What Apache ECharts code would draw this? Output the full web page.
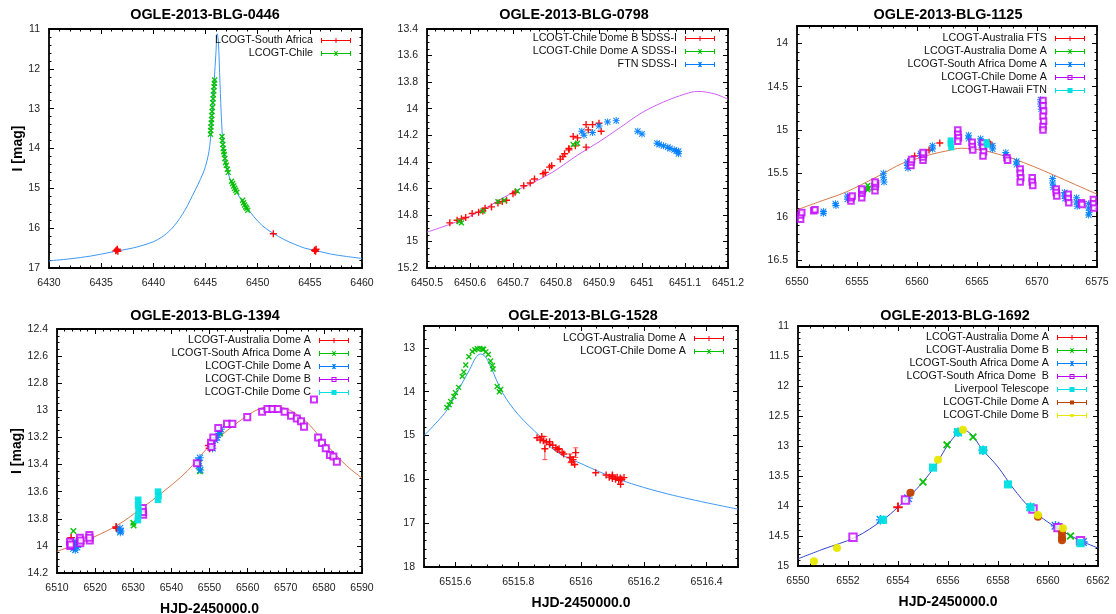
<!DOCTYPE html>
<html><head><meta charset="utf-8">
<script src="https://cdn.jsdelivr.net/npm/echarts@6/dist/echarts.min.js"></script>
<style>html,body{margin:0;padding:0;background:#fff}#c{width:1116px;height:614px}</style>
</head><body><div id="c"></div>
<script>
// ---------------- DATA ----------------
// Panel 1: OGLE-2013-BLG-0446
const p1Titles = 'OGLE-2013-BLG-0446';
const p1XTicks = [6430, 6435, 6440, 6445, 6450, 6455, 6460];
const p1YTicks = [11, 12, 13, 14, 15, 16, 17];
const p1Model = [[6430,16.82],[6432,16.77],[6434,16.7],[6436,16.6],[6438,16.5],[6439,16.43],[6440,16.34],[6441,16.19],[6442,15.94],[6443,15.56],[6444,15.05],[6444.5,14.78],[6445,14.45],[6445.4,13.95],[6445.62,13.2],[6445.84,12.28],[6446.0,11.6],[6446.12,11.12],[6446.23,11.3],[6446.39,12.36],[6446.55,13.37],[6446.72,14.0],[6447.0,14.45],[6447.4,14.8],[6447.85,15.02],[6448.4,15.28],[6448.9,15.45],[6449.6,15.7],[6450.5,15.95],[6451.5,16.13],[6452.5,16.28],[6453.5,16.4],[6454.5,16.5],[6455.7,16.57],[6457,16.65],[6458.5,16.71],[6460,16.76]];
const p1SouthAfrica = [[6436.4,16.57],[6436.5,16.55],[6436.6,16.58],[6436.55,16.53],[6451.5,16.14],[6455.5,16.55],[6455.55,16.58],[6455.6,16.53],[6455.45,16.56]];
const p1Chile = [[6445.48,13.64],[6445.5,13.55],[6445.52,13.46],[6445.55,13.36],[6445.58,13.27],[6445.6,13.17],[6445.63,13.07],[6445.66,12.97],[6445.7,12.85],[6445.73,12.75],[6445.76,12.65],[6445.79,12.55],[6445.82,12.45],[6445.85,12.36],[6445.88,12.28],
 [6446.58,13.7],[6446.62,13.8],[6446.66,13.9],[6446.7,14.0],[6446.75,14.08],[6446.8,14.15],[6446.86,14.25],[6446.92,14.35],[6447.0,14.42],[6447.1,14.52],[6447.18,14.6],
 [6447.5,14.82],[6447.6,14.88],[6447.7,14.94],[6447.8,15.0],[6447.9,15.05],[6448.0,15.1],
 [6448.56,15.3],[6448.65,15.36],[6448.75,15.42],[6448.85,15.47],[6448.95,15.5],[6449.05,15.55]];

// Panel 2: OGLE-2013-BLG-0798
const p2XTicks = [6450.5, 6450.6, 6450.7, 6450.8, 6450.9, 6451, 6451.1, 6451.2];
const p2YTicks = [13.4, 13.6, 13.8, 14, 14.2, 14.4, 14.6, 14.8, 15, 15.2];
const p2Model = [[6450.5,14.93],[6450.6,14.81],[6450.7,14.63],[6450.786,14.49],[6450.85,14.35],[6450.9,14.25],[6450.95,14.14],[6451.0,14.03],[6451.05,13.95],[6451.1,13.89],[6451.13,13.87],[6451.17,13.89],[6451.2,13.93]];
const p2DomeB = [[6450.553,14.86],[6450.57,14.84],[6450.58,14.83],[6450.59,14.82],[6450.605,14.79],[6450.62,14.78],[6450.63,14.77],[6450.635,14.75],[6450.65,14.74],[6450.665,14.71],[6450.675,14.70],[6450.685,14.69],[6450.70,14.64],[6450.705,14.63],[6450.725,14.58],[6450.74,14.56],[6450.75,14.53],[6450.77,14.49],[6450.775,14.48],[6450.785,14.44],[6450.79,14.43],[6450.81,14.38],[6450.816,14.36],[6450.82,14.34],[6450.83,14.31],[6450.845,14.28],[6450.87,14.29],[6450.84,14.21],[6450.85,14.22],[6450.87,14.12],[6450.885,14.12],[6450.90,14.11],[6450.905,14.17],[6450.875,14.16],[6450.83,14.30]];
const p2DomeA = [[6450.575,14.85],[6450.58,14.86],[6450.63,14.77],[6450.665,14.7],[6450.68,14.69],[6450.71,14.62],[6450.84,14.27],[6450.85,14.26]];
const p2FTN = [[6450.86,14.17],[6450.865,14.2],[6450.885,14.18],[6450.9,14.13],[6450.92,14.1],[6450.94,14.09],[6450.99,14.17],[6451.0,14.19],[6451.035,14.26],[6451.04,14.27],[6451.05,14.28],[6451.06,14.29],[6451.065,14.30],[6451.075,14.31],[6451.08,14.32],[6451.085,14.34],[6451.085,14.32]];

// Panel 3: OGLE-2013-BLG-1125
const p3XTicks = [6550, 6555, 6560, 6565, 6570, 6575];
const p3YTicks = [14, 14.5, 15, 15.5, 16, 16.5];
const p3Model = [[6550,15.92],[6552,15.82],[6554,15.72],[6555.8,15.6],[6557.2,15.5],[6558.7,15.39],[6560,15.33],[6561.2,15.28],[6562.5,15.24],[6563.7,15.21],[6564.7,15.22],[6565.7,15.24],[6566.8,15.28],[6568,15.33],[6569.7,15.42],[6571.4,15.52],[6573.2,15.63],[6575,15.74]];
const p3AusFTS = [[6559.8,15.3],[6561.0,15.23],[6561.9,15.15],[6566.1,15.16],[6566.0,15.14]];
const p3AusDomeA = [[6555.9,15.64],[6555.95,15.67],[6555.9,15.69]];
const p3SADomeA = [[6552.2,15.94],[6552.2,15.96],[6553.2,15.85],[6553.25,15.87],[6554.2,15.76],[6554.2,15.8],[6557.2,15.5],[6557.2,15.55],[6557.25,15.6],[6559.2,15.37],[6559.2,15.41],[6559.25,15.44],[6560.3,15.27],[6560.35,15.29],[6561.3,15.18],[6561.3,15.22],[6564.3,15.06],[6564.3,15.1],[6565.3,15.1],[6565.3,15.14],[6565.35,15.18],[6566.3,15.18],[6566.3,15.22],[6567.4,15.26],[6567.4,15.29],[6568.3,15.36],[6568.3,15.4],[6571.3,15.56],[6571.3,15.61],[6571.35,15.66],[6572.3,15.72],[6572.3,15.76],[6572.35,15.79],[6573.3,15.78],[6573.3,15.83],[6573.35,15.88],[6574.3,15.85],[6574.3,15.9],[6574.35,15.95],[6574.3,15.98],[6570.3,14.65],[6570.3,14.7],[6570.35,14.76]];
const p3ChileDomeA = [[6550.3,16.03],[6550.3,15.98],[6550.4,15.95],[6551.4,15.93],[6551.5,15.92],[6554.5,15.82],[6554.5,15.78],[6554.6,15.76],[6555.4,15.78],[6555.4,15.73],[6555.45,15.7],[6555.4,15.68],[6556.5,15.7],[6556.5,15.65],[6556.55,15.62],[6556.5,15.6],[6559.5,15.41],[6559.5,15.37],[6559.55,15.34],[6560.5,15.35],[6560.5,15.31],[6560.55,15.28],[6560.5,15.26],[6563.4,15.0],[6563.4,15.05],[6563.45,15.09],[6563.4,15.13],[6564.6,15.14],[6564.6,15.19],[6564.65,15.23],[6565.5,15.15],[6565.5,15.2],[6565.55,15.25],[6565.5,15.3],[6567.5,15.32],[6567.55,15.35],[6568.6,15.45],[6568.6,15.5],[6568.65,15.55],[6568.6,15.6],[6569.6,15.55],[6569.6,15.6],[6569.65,15.64],[6571.6,15.68],[6571.6,15.72],[6571.65,15.76],[6572.6,15.74],[6572.6,15.79],[6572.65,15.84],[6573.7,15.84],[6573.75,15.86],[6574.7,15.8],[6574.7,15.85],[6574.75,15.9],[6570.5,14.66],[6570.5,14.72],[6570.55,14.78],[6570.5,14.84],[6570.55,14.9],[6570.5,14.96],[6570.5,15.0]];
const p3Hawaii = [[6562.8,15.12],[6562.8,15.16],[6562.85,15.2],[6565.8,15.14],[6565.85,15.17]];

// Panel 4: OGLE-2013-BLG-1394
const p4XTicks = [6510, 6520, 6530, 6540, 6550, 6560, 6570, 6580, 6590];
const p4YTicks = [12.4, 12.6, 12.8, 13, 13.2, 13.4, 13.6, 13.8, 14, 14.2];
const p4Model = [[6510,14.04],[6515,13.99],[6520,13.93],[6525.7,13.85],[6531.8,13.73],[6537,13.62],[6544.1,13.45],[6549.4,13.28],[6554.6,13.15],[6559.9,13.04],[6563,12.99],[6566.4,12.97],[6569,12.98],[6571.2,13.0],[6575.6,13.09],[6579.1,13.2],[6582.5,13.31],[6586,13.41],[6590,13.5]];
const p4AusDomeA = [[6513.7,13.94],[6513.8,13.97],[6525.5,13.86],[6525.6,13.87],[6549.8,13.26],[6550,13.28]];
const p4SADomeA = [[6514.3,13.89],[6530,13.83],[6530.1,13.85],[6547.3,13.39],[6547.5,13.45],[6552.8,13.17]];
const p4ChileDomeA = [[6514,13.98],[6514.3,14.02],[6514.6,14.0],[6515,13.97],[6515.3,14.01],[6515.5,13.99],[6514.8,14.03],[6526.5,13.87],[6526.6,13.9],[6526.7,13.89],[6547,13.37],[6547.2,13.41],[6547.5,13.35],[6547.6,13.44],[6550.5,13.26],[6551.5,13.22],[6552,13.2],[6552.5,13.17],[6553,13.14],[6550.8,13.28]];
const p4ChileDomeB = [[6513.4,13.97],[6513.5,14.0],[6513.6,13.99],[6516,13.94],[6516.1,13.98],[6516.2,13.96],[6518.5,13.92],[6518.6,13.96],[6518.5,13.94],[6532.5,13.72],[6532.6,13.77],[6532.5,13.75],[6546.7,13.39],[6550.4,13.24],[6550.5,13.27],[6551,13.2],[6552.3,13.13],[6554.6,13.1],[6556,13.1],[6559.9,13.05],[6563.8,13.01],[6565.2,12.99],[6566.5,12.99],[6567.9,12.99],[6569.7,13.01],[6571.4,13.04],[6572.9,13.06],[6574,13.08],[6574.8,13.12],[6577.4,12.92],[6578.5,13.2],[6579.5,13.24],[6580.5,13.28],[6581.6,13.33],[6582.5,13.34],[6583.4,13.38]];
const p4ChileDomeC = [[6531.3,13.66],[6531.3,13.7],[6531.4,13.74],[6531.3,13.78],[6531.2,13.81],[6536.5,13.6],[6536.6,13.63],[6536.5,13.66]];

// Panel 5: OGLE-2013-BLG-1528
const p5XTicks = [6515.6, 6515.8, 6516, 6516.2, 6516.4];
const p5YTicks = [13, 14, 15, 16, 17, 18];
const p5Model = [[6515.5,15.0],[6515.57,14.45],[6515.61,13.95],[6515.645,13.5],[6515.665,13.22],[6515.68,13.14],[6515.695,13.2],[6515.71,13.39],[6515.75,14.02],[6515.8,14.52],[6515.87,15.02],[6515.92,15.36],[6516.0,15.64],[6516.12,16.0],[6516.28,16.34],[6516.5,16.68]];
const p5AusDomeA = [[6515.86,15.05],[6515.87,15.1],[6515.875,15.02],[6515.88,15.12],[6515.89,15.15],[6515.9,15.2],[6515.9,15.14],[6515.91,15.22],[6515.92,15.28],[6515.925,15.32],[6515.93,15.3],[6515.94,15.38],[6515.945,15.42],[6515.885,15.3],[6515.965,15.5],[6515.97,15.6],[6515.975,15.55],[6515.98,15.66],[6515.983,15.39],[6516.047,15.85],[6516.08,15.9],[6516.09,15.95],[6516.1,15.93],[6516.1,15.98],[6516.11,16.0],[6516.115,15.95],[6516.12,16.02],[6516.125,15.97],[6516.13,16.0],[6516.137,15.96],[6516.126,16.11],[6516.1,15.9]];
const p5AusDomeAErr = [[6515.885,15.02,15.55],[6515.983,15.28,15.5],[6515.965,15.42,15.62],[6515.975,15.48,15.68]]; // [x, low, high]
const p5ChileDomeA = [[6515.573,14.36],[6515.58,14.3],[6515.585,14.22],[6515.595,14.11],[6515.6,14.02],[6515.61,13.9],[6515.622,13.65],[6515.627,13.55],[6515.633,13.39],[6515.643,13.2],[6515.654,13.08],[6515.662,13.04],[6515.67,13.02],[6515.678,13.01],[6515.686,13.03],[6515.69,13.03],[6515.697,13.09],[6515.705,13.15],[6515.712,13.3],[6515.718,13.4],[6515.72,13.48],[6515.733,13.88],[6515.744,13.95],[6515.74,14.0]];

// Panel 6: OGLE-2013-BLG-1692
const p6XTicks = [6550, 6552, 6554, 6556, 6558, 6560, 6562];
const p6YTicks = [11, 11.5, 12, 12.5, 13, 13.5, 14, 14.5, 15];
const p6Model = [[6550,14.88],[6551,14.72],[6552.3,14.52],[6553.4,14.23],[6554,14.02],[6554.5,13.82],[6555,13.6],[6555.5,13.32],[6556,12.98],[6556.4,12.78],[6556.6,12.73],[6556.96,12.82],[6557.36,13.05],[6558,13.35],[6558.6,13.7],[6559.3,14.04],[6560,14.27],[6560.5,14.4],[6561.2,14.56],[6562,14.7]];
const p6AusDomeA = [[6554.0,14.02],[6560.5,14.38]];
const p6AusDomeB = [[6555.0,13.6],[6555.96,12.98],[6557.0,12.85],[6560.9,14.5]];
const p6SADomeA = [[6553.3,14.23],[6554.4,13.87],[6557.4,13.07],[6559.3,14.02],[6560.3,14.33],[6561.4,14.6],[6556.4,12.77]];
const p6SADomeB = [[6552.2,14.52],[6554.3,13.9],[6559.4,14.05],[6560.4,14.36],[6561.3,14.58]];
const p6Liverpool = [[6553.4,14.23],[6555.4,13.36],[6557.4,13.07],[6558.4,13.64],[6556.4,12.77],[6561.3,14.62],[6559.3,14.02]];
const p6ChileDomeA = [[6554.5,13.78],[6560.56,14.45],[6560.56,14.52],[6560.56,14.57],[6559.6,14.18]];
const p6ChileDomeB = [[6550.64,14.92],[6551.56,14.7],[6555.6,13.23],[6556.6,12.73],[6559.6,14.15],[6560.6,14.37]];

// ---------------- STYLE / LAYOUT ----------------
const FONT = "'Liberation Sans', Arial, Helvetica, sans-serif";
const COL = {red:'#ff0000', green:'#00c000', blue:'#0080ff', magenta:'#c000ff', cyan:'#00e0e0', brown:'#c04000', yellow:'#e8e800', navy:'#2020c0'};

const SYM = {
  plus: {symbol:'path://M4,0H6V10H4Z M0,4H10V6H0Z', size:7, rot:0},
  cross:{symbol:'path://M4,0H6V10H4Z M0,4H10V6H0Z', size:7, rot:45},
  star: {symbol:'path://M4.3,0H5.7V10H4.3Z M0,4.3H10V5.7H0Z M0.5,1.5L1.5,0.5L9.5,8.5L8.5,9.5Z M8.5,0.5L9.5,1.5L1.5,9.5L0.5,8.5Z', size:7, rot:0},
  box:  {symbol:'emptyRect', size:5.5, rot:0},
  fbox: {symbol:'rect', size:6, rot:0},
  circ: {symbol:'circle', size:6, rot:0},
  dot:  {symbol:'circle', size:6, rot:0}
};
const ICON_BASE = 'M0,3.5H30V4.5H0Z M0,1.5H1V6.5H0Z M29,1.5H30V6.5H29Z';
const ICON = {
  plus: 'path://' + ICON_BASE + ' M14.5,1.5H15.5V6.5H14.5Z',
  cross:'path://' + ICON_BASE + ' M13,1.8L13.8,1.2L17,6.2L16.2,6.8Z M16.2,1.2L17,1.8L13.8,6.8L13,6.2Z',
  star: 'path://' + ICON_BASE + ' M14.5,1.5H15.5V6.5H14.5Z M13,1.8L13.8,1.2L17,6.2L16.2,6.8Z M16.2,1.2L17,1.8L13.8,6.8L13,6.2Z',
  box:  'path://' + ICON_BASE + ' M12.5,1.5H17.5V6.5H12.5Z M13.5,2.5V5.5H16.5V2.5Z',
  fbox: 'path://' + ICON_BASE + ' M12.5,1.5H17.5V6.5H12.5Z',
  circ: 'path://' + ICON_BASE + ' M13,2H17V6H13Z',
  dot:  'path://' + ICON_BASE + ' M13.5,2.5H16.5V5.5H13.5Z'
};

const panels = [
  {title:p1Titles, tx:205, ty:8, grid:{left:49, top:29, width:313, height:239}, ps:1, yGap:24,
   xr:[6430,6460], xt:p1XTicks, xm:1, yr:[11,17], yt:p1YTicks, ym:0.2, yName:'I [mag]', xName:'',
   lg:{iconRight:351, top:35}, model:{data:p1Model, color:'#3f99f5'},
   series:[{name:'LCOGT-South Africa', data:p1SouthAfrica, kind:'plus', color:COL.red},
           {name:'LCOGT-Chile', data:p1Chile, kind:'cross', color:COL.green}]},
  {title:'OGLE-2013-BLG-0798', tx:574, ty:8, grid:{left:427, top:29, width:301, height:239}, ps:1, yGap:30,
   xr:[6450.5,6451.2], xt:p2XTicks, xm:0.02, yr:[13.4,15.2], yt:p2YTicks, ym:0.05, yName:'', xName:'',
   lg:{iconRight:715, top:33}, model:{data:p2Model, color:'#d060f8'},
   series:[{name:'LCOGT-Chile Dome B SDSS-I', data:p2DomeB, kind:'plus', color:COL.red},
           {name:'LCOGT-Chile Dome A SDSS-I', data:p2DomeA, kind:'cross', color:COL.green},
           {name:'FTN SDSS-I', data:p2FTN, kind:'star', color:COL.blue}]},
  {title:'OGLE-2013-BLG-1125', tx:948, ty:8, grid:{left:797, top:26, width:300, height:241}, ps:1, yGap:30,
   xr:[6550,6575], xt:p3XTicks, xm:1, yr:[13.8,16.58], yt:p3YTicks, ym:0.1, yName:'', xName:'',
   lg:{iconRight:1085, top:33}, model:{data:p3Model, color:'#d8784a'},
   series:[{name:'LCOGT-Australia FTS', data:p3AusFTS, kind:'plus', color:COL.red},
           {name:'LCOGT-Australia Dome A', data:p3AusDomeA, kind:'cross', color:COL.green},
           {name:'LCOGT-South Africa Dome A', data:p3SADomeA, kind:'star', color:COL.blue},
           {name:'LCOGT-Chile Dome A', data:p3ChileDomeA, kind:'box', color:COL.magenta},
           {name:'LCOGT-Hawaii FTN', data:p3Hawaii, kind:'fbox', color:COL.cyan}]},
  {title:'OGLE-2013-BLG-1394', tx:205, ty:309, grid:{left:57, top:329, width:305, height:244}, ps:1.1, yGap:33,
   xr:[6510,6590], xt:p4XTicks, xm:2, yr:[12.4,14.2], yt:p4YTicks, ym:0.05, yName:'I [mag]', xName:'HJD-2450000.0',
   lg:{iconRight:349, top:335}, model:{data:p4Model, color:'#d8784a'},
   series:[{name:'LCOGT-Australia Dome A', data:p4AusDomeA, kind:'plus', color:COL.red},
           {name:'LCOGT-South Africa Dome A', data:p4SADomeA, kind:'cross', color:COL.green},
           {name:'LCOGT-Chile Dome A', data:p4ChileDomeA, kind:'star', color:COL.blue},
           {name:'LCOGT-Chile Dome B', data:p4ChileDomeB, kind:'box', color:COL.magenta},
           {name:'LCOGT-Chile Dome C', data:p4ChileDomeC, kind:'fbox', color:COL.cyan}]},
  {title:'OGLE-2013-BLG-1528', tx:583, ty:309, grid:{left:424, top:326, width:314, height:241}, ps:1, yGap:30,
   xr:[6515.5,6516.5], xt:p5XTicks, xm:0.05, yr:[12.5,18], yt:p5YTicks, ym:0.2, yName:'', xName:'HJD-2450000.0',
   lg:{iconRight:724, top:333}, model:{data:p5Model, color:'#3f99f5'},
   errors:[{data:p5AusDomeAErr, color:COL.red}],
   series:[{name:'LCOGT-Australia Dome A', data:p5AusDomeA, kind:'plus', color:COL.red},
           {name:'LCOGT-Chile Dome A', data:p5ChileDomeA, kind:'cross', color:COL.green}]},
  {title:'OGLE-2013-BLG-1692', tx:955, ty:309, grid:{left:798, top:326, width:300, height:240}, ps:1.35, yGap:30,
   xr:[6550,6562], xt:p6XTicks, xm:0.5, yr:[11,15], yt:p6YTicks, ym:0.1, yName:'', xName:'HJD-2450000.0',
   lg:{iconRight:1087, top:332}, model:{data:p6Model, color:'#3344cc'},
   series:[{name:'LCOGT-Australia Dome A', data:p6AusDomeA, kind:'plus', color:COL.red},
           {name:'LCOGT-Australia Dome B', data:p6AusDomeB, kind:'cross', color:COL.green},
           {name:'LCOGT-South Africa Dome A', data:p6SADomeA, kind:'star', color:COL.blue},
           {name:'LCOGT-South Africa Dome  B', data:p6SADomeB, kind:'box', color:COL.magenta},
           {name:'Liverpool Telescope', data:p6Liverpool, kind:'fbox', color:COL.cyan},
           {name:'LCOGT-Chile Dome A', data:p6ChileDomeA, kind:'circ', color:COL.brown},
           {name:'LCOGT-Chile Dome B', data:p6ChileDomeB, kind:'dot', color:COL.yellow}]}
];

function minorTicks(range, step, majors) {
  const out = [];
  const start = Math.ceil(range[0] / step - 1e-9);
  const end = Math.floor(range[1] / step + 1e-9);
  for (let k = start; k <= end; k++) {
    const v = Math.round(k * step * 1e6) / 1e6;
    if (!majors.some(m => Math.abs(m - v) < step * 0.01)) out.push(v);
  }
  return out;
}
const fmt = v => String(Math.round(v * 1000) / 1000);

const W = 1116;
const grids = [], xAxes = [], yAxes = [], series = [], legends = [], titles = [];
const lineBlack = {color:'#000', width:1.8};
panels.forEach((p, i) => {
  grids.push(Object.assign({show:false, outerBoundsMode:'none', containLabel:false}, p.grid));
  titles.push({text:p.title, left:p.tx, top:p.ty, textAlign:'center', padding:0,
    textStyle:{fontFamily:FONT, fontSize:14.4, fontWeight:'bold', color:'#000'}});
  const xmin = minorTicks(p.xr, p.xm, p.xt), ymin = minorTicks(p.yr, p.ym, p.yt);
  const mkAxis = (dim, pos, major, withLabel, name) => {
    const isY = dim === 'y';
    const base = {gridIndex:i, type:'value', position:pos, min:(isY?p.yr:p.xr)[0], max:(isY?p.yr:p.xr)[1],
      inverse:isY, splitLine:{show:false}, minorTick:{show:false}, silent:true};
    if (major) {
      Object.assign(base, {
        axisLine:{show:true, onZero:false, lineStyle:lineBlack},
        axisTick:{show:true, inside:true, length:5, customValues:(isY?p.yt:p.xt), lineStyle:{color:'#000', width:1}},
        axisLabel:{show:withLabel, customValues:(isY?p.yt:p.xt), margin:isY?9:10, fontSize:10.5, color:'#222', fontFamily:FONT,
          formatter:fmt, showMinLabel:true, showMaxLabel:true, hideOverlap:false}
      });
      if (name) Object.assign(base, {name:name, nameLocation:'middle', nameGap:isY?p.yGap:29, nameMoveOverlap:false,
        nameTextStyle:{fontFamily:FONT, fontSize:14, fontWeight:'bold', color:'#000'}});
    } else {
      Object.assign(base, {
        axisLine:{show:false, onZero:false},
        axisTick:{show:true, inside:true, length:2.5, customValues:(isY?ymin:xmin), lineStyle:{color:'#000', width:1}},
        axisLabel:{show:false}
      });
    }
    return base;
  };
  xAxes.push(mkAxis('x','bottom',true,true,p.xName));
  xAxes.push(mkAxis('x','bottom',false));
  xAxes.push(mkAxis('x','top',true,false));
  xAxes.push(mkAxis('x','top',false));
  yAxes.push(mkAxis('y','left',true,true,p.yName));
  yAxes.push(mkAxis('y','left',false));
  yAxes.push(mkAxis('y','right',true,false));
  yAxes.push(mkAxis('y','right',false));

  series.push({type:'line', name:'model-'+i, xAxisIndex:4*i, yAxisIndex:4*i, data:p.model.data,
    showSymbol:false, symbol:'none', smooth:0.35, lineStyle:{width:1, color:p.model.color}, z:1, silent:true});
  (p.errors || []).forEach((e, k) => {
    series.push({type:'custom', name:'err-'+i+'-'+k, xAxisIndex:4*i, yAxisIndex:4*i, data:e.data, silent:true, z:2,
      encode:{x:0, y:[1,2]},
      renderItem:(params, api) => {
        const a = api.coord([api.value(0), api.value(1)]);
        const b = api.coord([api.value(0), api.value(2)]);
        const st = {stroke:e.color, lineWidth:1, opacity:0.7};
        return {type:'group', children:[
          {type:'line', shape:{x1:a[0], y1:a[1], x2:b[0], y2:b[1]}, style:st},
          {type:'line', shape:{x1:a[0]-2.5, y1:a[1], x2:a[0]+2.5, y2:a[1]}, style:st},
          {type:'line', shape:{x1:b[0]-2.5, y1:b[1], x2:b[0]+2.5, y2:b[1]}, style:st}
        ]};
      }});
  });
  const legendData = [];
  p.series.forEach(s => {
    const sy = SYM[s.kind];
    const ser = {type:'scatter', name:s.name + '#' + i, xAxisIndex:4*i, yAxisIndex:4*i, data:s.data,
      symbol:sy.symbol, symbolSize:sy.size * p.ps, symbolRotate:sy.rot, z:3, silent:true,
      itemStyle:{color:s.color, opacity:0.95}};
    if (s.kind === 'box') ser.itemStyle = {color:s.color, borderColor:s.color, borderWidth:1.4};
    series.push(ser);
    legendData.push({name:s.name + '#' + i, icon:ICON[s.kind], itemStyle:{color:s.color, borderWidth:0, opacity:1}});
  });
  legends.push({data:legendData, orient:'vertical', align:'right', right:W - p.lg.iconRight, top:p.lg.top,
    itemWidth:30, itemHeight:8, itemGap:2, padding:0, selectedMode:false,
    itemStyle:{borderWidth:0},
    formatter:n => n.split('#')[0],
    textStyle:{fontFamily:FONT, fontSize:10.7, color:'#111', padding:[0,3,0,0]}});
});

const chart = echarts.init(document.getElementById('c'), null, {renderer:'canvas'});
chart.setOption({
  backgroundColor:'#fff', animation:false,
  title:titles, grid:grids, xAxis:xAxes, yAxis:yAxes, series:series, legend:legends, tooltip:{show:false}
});
</script></body></html>
